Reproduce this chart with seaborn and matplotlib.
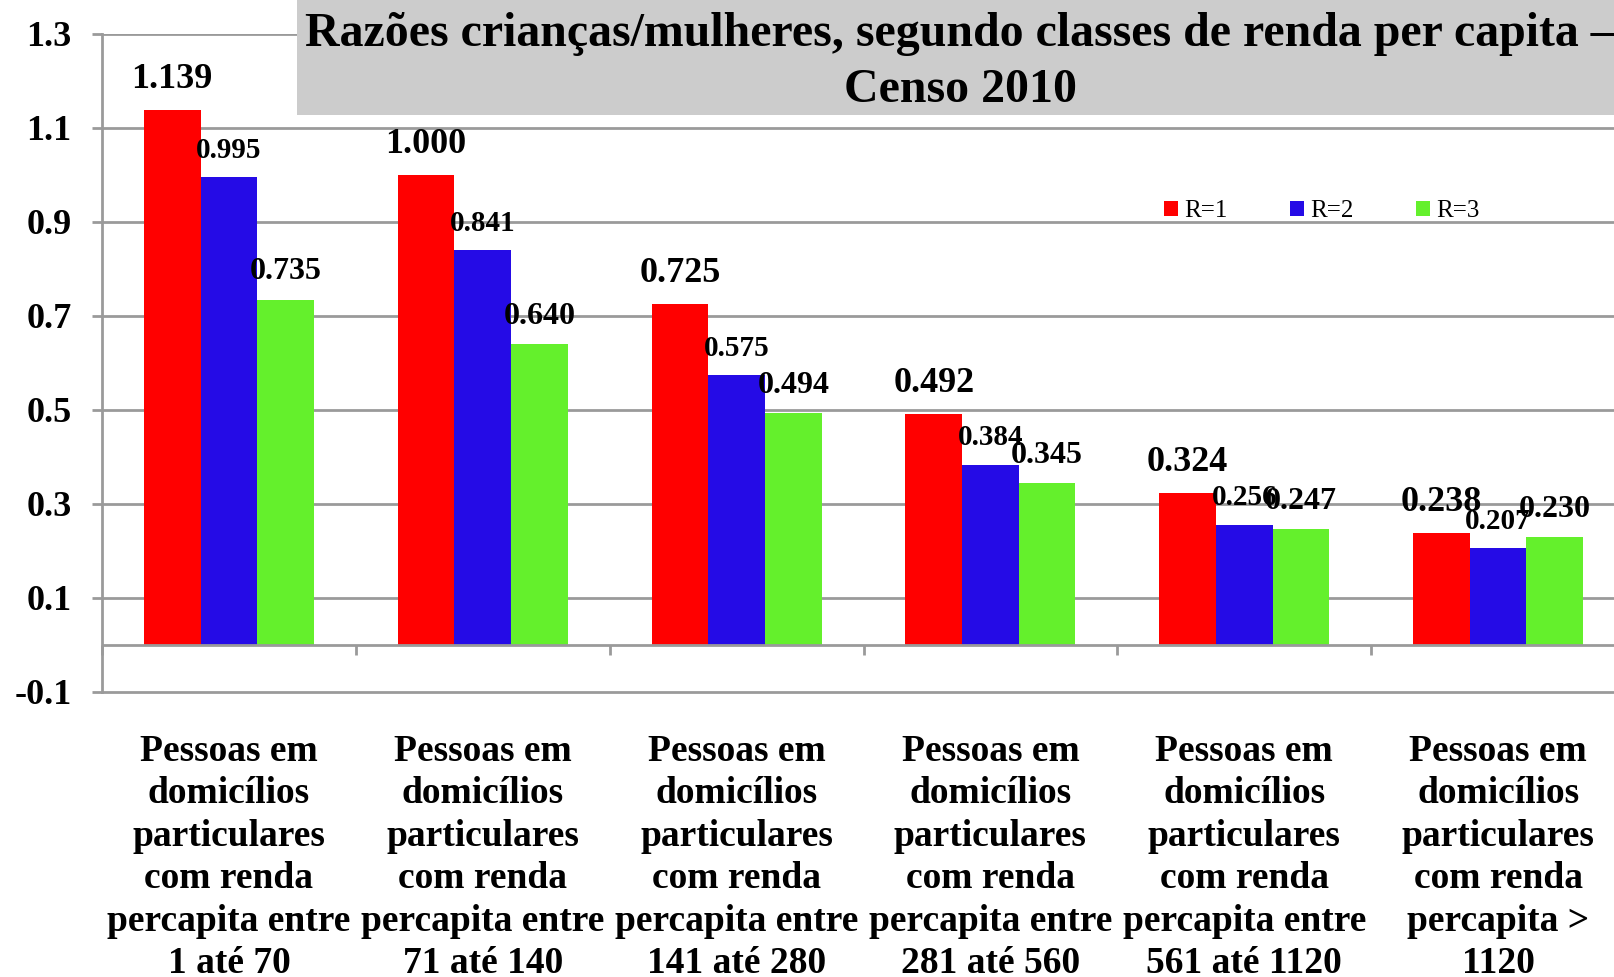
import matplotlib
matplotlib.use("Agg")
import matplotlib.pyplot as plt
from matplotlib.patches import Rectangle
import numpy as np
import pandas as pd
import seaborn as sns

# data
classes = ["Pessoas em\ndomicílios\nparticulares\ncom renda\npercapita entre\n1 até 70",
           "Pessoas em\ndomicílios\nparticulares\ncom renda\npercapita entre\n71 até 140",
           "Pessoas em\ndomicílios\nparticulares\ncom renda\npercapita entre\n141 até 280",
           "Pessoas em\ndomicílios\nparticulares\ncom renda\npercapita entre\n281 até 560",
           "Pessoas em\ndomicílios\nparticulares\ncom renda\npercapita entre\n561 até 1120",
           "Pessoas em\ndomicílios\nparticulares\ncom renda\npercapita >\n1120"]
r1 = [1.139, 1.000, 0.725, 0.492, 0.324, 0.238]
r2 = [0.995, 0.841, 0.575, 0.384, 0.256, 0.207]
r3 = [0.735, 0.640, 0.494, 0.345, 0.247, 0.230]
series = ["R=1", "R=2", "R=3"]
colors = ["#ff0000", "#250be6", "#64f02c"]
yticks = [-0.1, 0.1, 0.3, 0.5, 0.7, 0.9, 1.1, 1.3]
title = "Razões crianças/mulheres, segundo classes de renda per capita –\nCenso 2010"

df = pd.DataFrame({"classe": classes * 3,
                   "R": [s for s in series for _ in classes],
                   "razao": r1 + r2 + r3})

sns.set_style("white")
plt.rcParams["font.family"] = ["Liberation Serif", "DejaVu Serif"]
plt.rcParams["text.color"] = "black"
plt.rcParams["xtick.color"] = "black"
plt.rcParams["ytick.color"] = "black"

fig = plt.figure(figsize=(16.14, 9.77), dpi=100)
# plot area runs a little past the right edge, as in the original
ax = fig.add_axes([102 / 1614, 1 - 692 / 977, 1523 / 1614, (692 - 34) / 977])

sns.barplot(data=df, x="classe", y="razao", hue="R", palette=colors,
            width=0.67, saturation=1, linewidth=0, ax=ax, zorder=3)

grid = "#9a9a9a"
ax.set_ylim(-0.1, 1.3)
ax.set_xlim(-0.5, len(classes) - 0.5)
ax.set_yticks(yticks)
ax.set_yticklabels(["%.1f" % v for v in yticks], fontsize=26, fontweight="bold")
for v in yticks[1:]:
    ax.axhline(v, color=grid, lw=2, zorder=1)
ax.axhline(0, color=grid, lw=2, zorder=4)
bounds = np.arange(len(classes) + 1) - 0.5
ax.vlines(bounds, -0.022, 0, color=grid, lw=2, zorder=4, clip_on=False)

for side in ["top", "right"]:
    ax.spines[side].set_visible(False)
for side in ["left", "bottom"]:
    ax.spines[side].set_color(grid)
    ax.spines[side].set_linewidth(2)
ax.tick_params(axis="y", length=7, width=2, color=grid, labelcolor="black",
               pad=15, direction="out", left=True)
ax.tick_params(axis="x", length=0, pad=30, labelcolor="black")
ax.set_xticklabels(classes, fontsize=27, fontweight="bold", linespacing=1.28)
ax.set_xlabel("")
ax.set_ylabel("")

sizes = [26, 21, 23]
pads = [10, 9.5, 9.5]
for cont, fs, pd_ in zip(ax.containers, sizes, pads):
    ax.bar_label(cont, fmt="%.3f", fontsize=fs, fontweight="bold", padding=pd_, zorder=5)

ax.legend(loc="center left", bbox_to_anchor=(0.6975, 0.731), ncol=3, frameon=False,
          prop={"family": "Liberation Serif", "size": 18},
          handlelength=0.55, handleheight=0.55, handletextpad=0.25,
          columnspacing=2.5, borderpad=0, borderaxespad=0)

# gray title box
fig.add_artist(Rectangle((297 / 1614, 1 - 115 / 977), 1 - 297 / 1614, 115 / 977,
                         transform=fig.transFigure, facecolor="#cccccc",
                         edgecolor="none", zorder=5))
fig.text(960 / 1614, 1 - 62 / 977, title, ha="center", va="center", fontsize=34.5,
         fontweight="bold", linespacing=1.34, zorder=6)

fig.savefig("out.png", dpi=100)
